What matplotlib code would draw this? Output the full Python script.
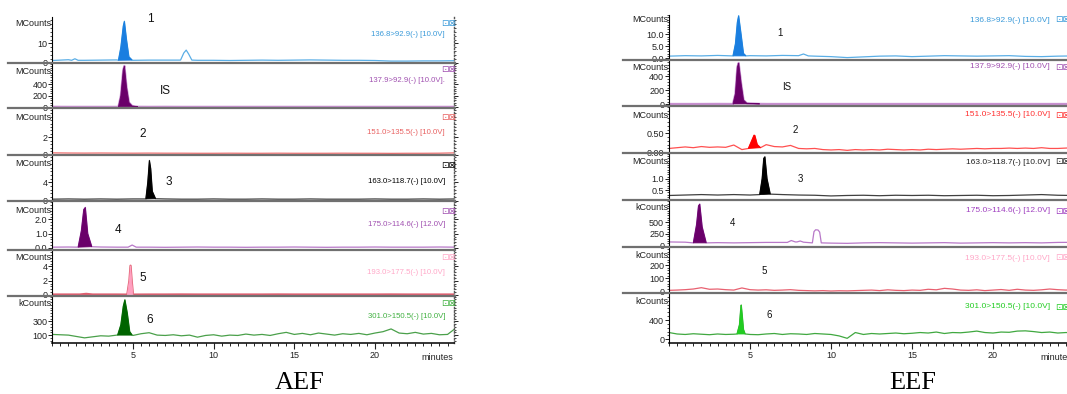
import matplotlib
matplotlib.use("Agg")
import matplotlib.pyplot as plt
from matplotlib.lines import Line2D
from matplotlib.ticker import AutoMinorLocator, FixedLocator, MultipleLocator


# ============================================================
# Data (time in minutes)
# ============================================================

COARSE_T = [float(i) for i in range(26)]          # 1 min sampling
FINE_T = [i * 0.5 for i in range(51)]             # 0.5 min sampling

# ---------------- AEF ----------------
AEF1_BASE = [1.1, 1.5, 1.2, 1.3, 1.4, 1.2, 1.3, 1.3, 1.3, 1.2, 1.2, 1.1, 1.2,
             1.3, 1.2, 1.3, 1.4, 1.3, 1.2, 1.2, 1.1, 0.8, 0.8, 0.9, 0.9, 1.0]
AEF1_PEAK_T = [4.1, 4.25, 4.4, 4.47, 4.6, 4.75, 4.95]
AEF1_PEAK_Y = [1.2, 8, 19, 21.5, 12, 3, 1.3]
AEF1_BUMPS_T = [[1.2, 1.4, 1.6], [7.95, 8.15, 8.3, 8.45, 8.65]]
AEF1_BUMPS_Y = [[1.2, 2.0, 1.2], [1.3, 5, 6.5, 4.5, 1.3]]

AEF2_BASE = [6, 5, 5, 5, 5, 5, 5, 6, 5, 5, 5, 5, 5, 5, 5, 5, 5, 5, 5, 5, 5,
             5, 5, 5, 5, 5]
AEF2_PEAK_T = [4.1, 4.25, 4.4, 4.47, 4.6, 4.75, 4.95, 5.3]
AEF2_PEAK_Y = [5, 200, 650, 718, 350, 80, 20, 6]

AEF3_BASE = [0.2, 0.18, 0.17, 0.18, 0.17, 0.16, 0.17, 0.16, 0.16, 0.15, 0.15,
             0.16, 0.15, 0.15, 0.16, 0.15, 0.15, 0.15, 0.16, 0.15, 0.15, 0.14,
             0.15, 0.15, 0.16, 0.2]

AEF4_BASE = [0.3, 0.35, 0.3, 0.35, 0.3, 0.35, 0.3, 0.35, 0.3, 0.3, 0.35, 0.3,
             0.3, 0.35, 0.3, 0.3, 0.35, 0.3, 0.3, 0.3, 0.35, 0.3, 0.3, 0.35,
             0.3, 0.35]
AEF4_PEAK_T = [5.8, 5.92, 6.02, 6.1, 6.2, 6.4]
AEF4_PEAK_Y = [0.35, 4, 8.8, 7, 2, 0.4]

AEF5_BASE = [0.05, 0.06, 0.05, 0.06, 0.05, 0.06, 0.05, 0.04, 0.05, 0.06, 0.05,
             0.05, 0.04, 0.05, 0.05, 0.06, 0.05, 0.04, 0.05, 0.05, 0.06, 0.05,
             0.05, 0.05, 0.06, 0.05]
AEF5_PEAK_T = [1.6, 1.8, 1.95, 2.05, 2.2, 2.45]
AEF5_PEAK_Y = [0.05, 1.2, 2.7, 2.85, 1.0, 0.08]
AEF5_BUMPS_T = [[4.7, 4.95, 5.2]]
AEF5_BUMPS_Y = [[0.05, 0.2, 0.05]]

AEF6_BASE = [0.06, 0.06, 0.07, 0.06, 0.06, 0.06, 0.06, 0.06, 0.07, 0.06, 0.06,
             0.06, 0.06, 0.06, 0.07, 0.06, 0.06, 0.06, 0.06, 0.06, 0.06, 0.07,
             0.06, 0.06, 0.06, 0.06]
AEF6_PEAK_T = [4.65, 4.78, 4.85, 4.92, 5.0]
AEF6_PEAK_Y = [0.05, 2, 4.1, 2, 0.05]
AEF6_BUMPS_T = [[1.7, 2.1, 2.5]]
AEF6_BUMPS_Y = [[0.06, 0.15, 0.06]]

AEF7_BASE = [110, 105, 100, 80, 60, 75, 90, 85, 100, 100, 95, 120, 135, 100,
             95, 105, 90, 100, 70, 95, 105, 85, 100, 95, 115, 100, 110, 95,
             120, 140, 110, 125, 105, 130, 115, 100, 120, 110, 125, 105, 130,
             150, 190, 130, 120, 140, 115, 125, 105, 110, 200]
AEF7_PEAK_T = [4.05, 4.25, 4.4, 4.5, 4.65, 4.8, 4.95]
AEF7_PEAK_Y = [100, 250, 520, 615, 420, 150, 100]

# ---------------- EEF ----------------
EEF1_BASE = [0.9, 1.1, 1.0, 1.2, 1.1, 1.1, 1.0, 1.2, 1.3, 0.9, 0.7, 0.3, 0.6,
             0.9, 1.0, 0.7, 0.9, 1.1, 1.0, 0.9, 1.0, 1.1, 0.8, 0.7, 0.9, 1.0]
EEF1_PEAK_T = [3.95, 4.1, 4.22, 4.3, 4.45, 4.6, 4.75]
EEF1_PEAK_Y = [1.0, 6, 15, 17.7, 10, 2, 1.0]
EEF1_BUMPS_T = [[8.0, 8.3, 8.6]]
EEF1_BUMPS_Y = [[1.1, 1.8, 1.0]]

EEF2_BASE = [5, 5, 5, 6, 5, 5, 5, 5, 5, 5, 5, 5, 5, 5, 5, 5, 5, 5, 5, 5, 5,
             5, 5, 5, 5, 5]
EEF2_PEAK_T = [3.95, 4.1, 4.22, 4.3, 4.45, 4.6, 4.8, 5.6]
EEF2_PEAK_Y = [5, 150, 530, 590, 300, 60, 15, 6]

EEF3_BASE = [0.1, 0.12, 0.14, 0.12, 0.15, 0.13, 0.14, 0.13, 0.19, 0.07, 0.1,
             0.12, 0.2, 0.15, 0.14, 0.18, 0.1, 0.09, 0.1, 0.07, 0.06, 0.07,
             0.05, 0.07, 0.06, 0.07, 0.06, 0.08, 0.07, 0.06, 0.07, 0.06, 0.08,
             0.07, 0.08, 0.09, 0.08, 0.09, 0.1, 0.09, 0.1, 0.1, 0.11, 0.1,
             0.11, 0.1, 0.12, 0.1, 0.1, 0.11, 0.12]
EEF3_PEAK_T = [4.9, 5.1, 5.25, 5.3, 5.45, 5.65]
EEF3_PEAK_Y = [0.1, 0.3, 0.45, 0.44, 0.2, 0.12]

EEF4_BASE = [0.26, 0.28, 0.3, 0.28, 0.3, 0.28, 0.34, 0.3, 0.28, 0.27, 0.24,
             0.26, 0.27, 0.25, 0.27, 0.26, 0.27, 0.25, 0.26, 0.27, 0.25, 0.26,
             0.28, 0.3, 0.27, 0.26]
EEF4_PEAK_T = [5.6, 5.75, 5.85, 5.92, 6.05, 6.25]
EEF4_PEAK_Y = [0.3, 1.0, 1.9, 1.97, 1.0, 0.32]

EEF5_BASE = [80, 75, 70, 65, 60, 65, 70, 70, 80, 70, 55, 50, 60, 65, 60, 55,
             60, 65, 55, 60, 65, 60, 65, 60, 70, 72]
EEF5_PEAK_T = [1.5, 1.7, 1.82, 1.9, 2.05, 2.3]
EEF5_PEAK_Y = [60, 450, 850, 890, 400, 60]
EEF5_BUMPS_T = [[7.3, 7.55, 7.8], [7.9, 8.1, 8.3],
                [8.85, 8.95, 9.05, 9.2, 9.3, 9.4]]
EEF5_BUMPS_Y = [[70, 110, 80], [80, 100, 75], [60, 300, 340, 335, 290, 60]]

EEF6_BASE = [10, 12, 15, 20, 30, 18, 20, 15, 12, 28, 15, 12, 14, 10, 12, 15,
             10, 8, 6, 8, 5, 7, 6, 8, 10, 12, 8, 14, 10, 8, 12, 10, 18, 14,
             25, 20, 12, 10, 14, 8, 12, 16, 10, 18, 12, 10, 14, 20, 15, 12, 14]

EEF7_BASE = [140, 110, 100, 115, 105, 95, 110, 100, 105, 110, 100, 95, 110,
             120, 100, 115, 110, 100, 120, 110, 100, 70, 20, 140, 100, 120,
             110, 120, 130, 115, 125, 140, 130, 150, 120, 140, 135, 150, 170,
             140, 130, 150, 145, 170, 175, 160, 140, 150, 130, 140, 135]
EEF7_PEAK_T = [4.2, 4.35, 4.42, 4.46, 4.52, 4.6, 4.7]
EEF7_PEAK_Y = [110, 300, 600, 711, 500, 200, 110]

# Labels
AEF_CHANNELS = ["136.8>92.9(-) [10.0V]", "137.9>92.9(-) [10.0V].",
                "151.0>135.5(-) [10.0V]", "163.0>118.7(-) [10.0V]",
                "175.0>114.6(-) [12.0V]", "193.0>177.5(-) [10.0V]",
                "301.0>150.5(-) [10.0V]"]
EEF_CHANNELS = ["136.8>92.9(-) [10.0V]", "137.9>92.9(-) [10.0V]",
                "151.0>135.5(-) [10.0V]", "163.0>118.7(-) [10.0V]",
                "175.0>114.6(-) [12.0V]", "193.0>177.5(-) [10.0V]",
                "301.0>150.5(-) [10.0V]"]
PEAK_NAMES = ["1", "IS", "2", "3", "4", "5", "6"]
AEF_UNITS = ["MCounts"] * 6 + ["kCounts"]
EEF_UNITS = ["MCounts"] * 4 + ["kCounts"] * 3

AEF_YTICKS = [[0, 10], [0, 200, 400], [0, 2], [0, 4], [0, 1, 2], [0, 2, 4],
              [100, 300]]
AEF_YTICKLABELS = [["0", "10"], ["0", "200", "400"], ["0", "2"], ["0", "4"],
                   ["0.0", "1.0", "2.0"], ["0", "2", "4"], ["100", "300"]]
EEF_YTICKS = [[0, 5, 10], [0, 200, 400], [0, 0.5], [0.5, 1.0], [0, 250, 500],
              [0, 100, 200], [0, 400]]
EEF_YTICKLABELS = [["0.0", "5.0", "10.0"], ["0", "200", "400"],
                   ["0.00", "0.50"], ["0.5", "1.0"], ["0", "250", "500"],
                   ["0", "100", "200"], ["0", "400"]]
X_TICKS = [5, 10, 15, 20]


# ============================================================
# Layout / style (pixels of the 1067 x 394 canvas)
# ============================================================

FIG_W_PX, FIG_H_PX, DPI = 1067, 394, 100

AEF_X = (52.3, 454.0)
AEF_XLIM = (0, 24.9)
AEF_BOUNDS = [17, 63, 108, 155, 201, 250, 296, 343]
AEF_YLIMS = [(-0.2, 23.7), (-15, 770), (-0.05, 5.4), (-0.1, 10),
             (-0.15, 3.3), (-0.15, 6.3), (-15, 670)]

EEF_X = (669.0, 1074.0)
EEF_XLIM = (0, 25)
EEF_BOUNDS = [15, 60, 106, 153, 200, 247, 293, 343]
EEF_YLIMS = [(-0.7, 18), (-24, 633), (-0.02, 1.22), (0.06, 2.14),
             (-28, 976), (-10, 336), (-77, 960)]

AEF_LINE = ["#5aaee6", "#c890d0", "#f07070", "#404040", "#b878c8", "#e06070",
            "#4aa04a"]
AEF_FILL = ["#1a7ee0", "#6a006a", None, "#000000", "#6a006a", "#ffa0c0",
            "#006400"]
AEF_TEXT = ["#3a9ad9", "#a050b0", "#e86060", "#000000", "#a050b0", "#ffa8c8",
            "#40b040"]
EEF_LINE = ["#5aaee6", "#c890d0", "#ff5050", "#404040", "#b878c8", "#e86070",
            "#40a840"]
EEF_FILL = ["#1a7ee0", "#6a006a", "#ff0000", "#000000", "#6a006a", None,
            "#22cc22"]
EEF_TEXT = ["#3a9ad9", "#a050b0", "#ff3030", "#222222", "#a040c0", "#ffa8c8",
            "#22cc22"]

AEF_NAME_POS = [(150, 19), (165, 91), (143, 134), (169, 182), (118, 230),
                (143, 278), (150, 320)]
EEF_NAME_POS = [(780, 33), (787, 87), (795, 130), (800, 179), (733, 223),
                (764, 271), (769, 315)]
AEF_CHAN_Y = [35, 80, 132, 182, 225, 273, 317]
EEF_CHAN_Y = [20, 67, 115, 162, 211, 258, 307]
AEF_ICON_Y = [23, 70, 117, 165, 211, 258, 303]
AEF_UNIT_DY = [6, 8.5, 10, 8, 9, 7.5, 8]
EEF_UNIT_DY = [5, 7, 9, 8.5, 8, 8, 8.5]

plt.rcParams["font.family"] = ["Liberation Sans", "DejaVu Sans"]


def fx(x):
    return x / FIG_W_PX


def fy(y):
    return 1 - y / FIG_H_PX


def build_trace(base_t, base_y, groups):
    spans = [(min(t), max(t)) for t, _ in groups]
    pts = [(t, y) for t, y in zip(base_t, base_y)
           if not any(lo <= t <= hi for lo, hi in spans)]
    for gt, gy in groups:
        pts.extend(zip(gt, gy))
    pts.sort()
    return [p[0] for p in pts], [p[1] for p in pts]


def draw_chromatogram(fig, panels, x_px, xlim, bounds, ylims, yticks,
                      yticklabels, units, unit_dy, line_c, fill_c, text_c,
                      name_pos, chan_labels, chan_y, chan_x, icon_x, icon_y,
                      name_size, chan_size, sep_left, sep_right, dotted):
    for i, (base_t, base_y, peak, bumps) in enumerate(panels):
        top, bot = bounds[i], bounds[i + 1]
        ax = fig.add_axes([fx(x_px[0]), fy(bot), fx(x_px[1] - x_px[0]),
                           (bot - top) / FIG_H_PX])
        ax.set_xlim(*xlim)
        ax.set_ylim(*ylims[i])
        ax.patch.set_alpha(0)

        groups = list(bumps)
        if peak is not None:
            groups.append(peak)
        t, y = build_trace(base_t, base_y, groups)
        lw = 1.6 if i in (1,) or (i == 5 and fill_c[i] is not None) else 0.9
        ax.plot(t, y, color=line_c[i], lw=lw, solid_joinstyle="round",
                zorder=2)
        if peak is not None and fill_c[i] is not None:
            ax.fill(peak[0], peak[1], color=fill_c[i], lw=0.6, zorder=3)

        # spines
        ax.spines["top"].set_visible(False)
        ax.spines["bottom"].set_visible(i == len(panels) - 1)
        ax.spines["left"].set_linewidth(0.8)
        if dotted:
            ax.spines["right"].set_linestyle((0, (1, 1.5)))
            ax.spines["right"].set_color("#555555")
            ax.spines["right"].set_linewidth(1.0)
        else:
            ax.spines["right"].set_visible(False)

        ax.yaxis.set_major_locator(FixedLocator(yticks[i]))
        ax.set_yticklabels(yticklabels[i])
        ax.yaxis.set_minor_locator(AutoMinorLocator(5))
        ax.tick_params(axis="y", which="major", length=3, width=0.7,
                       labelsize=6.5, pad=0.5, colors="#222222")
        ax.tick_params(axis="y", which="minor", length=1.5, width=0.5)
        ax.tick_params(axis="y", right=dotted, which="both",
                       labelright=False)

        if i == len(panels) - 1:
            ax.xaxis.set_major_locator(FixedLocator(X_TICKS))
            ax.xaxis.set_minor_locator(MultipleLocator(0.5))
            ax.tick_params(axis="x", which="major", length=4, width=0.8,
                           labelsize=6.5, pad=2, colors="#222222")
            ax.tick_params(axis="x", which="minor", length=2.5, width=0.6)
            ax.spines["bottom"].set_linewidth(1.1)
        else:
            ax.set_xticks([])

        # unit label at the top of the y axis
        fig.text(fx(x_px[0] - 1), fy(top + unit_dy[i]), units[i], ha="right",
                 va="center", fontsize=6.5, color="#222222")
        # channel label
        fig.text(fx(chan_x), fy(chan_y[i]), chan_labels[i], ha="right",
                 va="center", fontsize=chan_size, color=text_c[i])
        # window icons
        fig.text(fx(icon_x), fy(icon_y[i]), "\u22a1\u22a0", ha="center",
                 va="center", fontsize=6.5, color=text_c[i],
                 family="DejaVu Sans")
        # peak name
        fig.text(fx(name_pos[i][0]), fy(name_pos[i][1]), PEAK_NAMES[i],
                 ha="center", va="center", fontsize=name_size,
                 color="#111111")

        # separator under the panel
        if i < len(panels) - 1:
            fig.add_artist(Line2D([fx(sep_left), fx(sep_right)],
                                  [fy(bot), fy(bot)], color="#707070",
                                  lw=1.6, transform=fig.transFigure))


fig = plt.figure(figsize=(FIG_W_PX / DPI, FIG_H_PX / DPI), dpi=DPI)

aef_panels = [
    (COARSE_T, AEF1_BASE, (AEF1_PEAK_T, AEF1_PEAK_Y),
     list(zip(AEF1_BUMPS_T, AEF1_BUMPS_Y))),
    (COARSE_T, AEF2_BASE, (AEF2_PEAK_T, AEF2_PEAK_Y), []),
    (COARSE_T, AEF3_BASE, None, []),
    (COARSE_T, AEF4_BASE, (AEF4_PEAK_T, AEF4_PEAK_Y), []),
    (COARSE_T, AEF5_BASE, (AEF5_PEAK_T, AEF5_PEAK_Y),
     list(zip(AEF5_BUMPS_T, AEF5_BUMPS_Y))),
    (COARSE_T, AEF6_BASE, (AEF6_PEAK_T, AEF6_PEAK_Y),
     list(zip(AEF6_BUMPS_T, AEF6_BUMPS_Y))),
    (FINE_T, AEF7_BASE, (AEF7_PEAK_T, AEF7_PEAK_Y), []),
]
eef_panels = [
    (COARSE_T, EEF1_BASE, (EEF1_PEAK_T, EEF1_PEAK_Y),
     list(zip(EEF1_BUMPS_T, EEF1_BUMPS_Y))),
    (COARSE_T, EEF2_BASE, (EEF2_PEAK_T, EEF2_PEAK_Y), []),
    (FINE_T, EEF3_BASE, (EEF3_PEAK_T, EEF3_PEAK_Y), []),
    (COARSE_T, EEF4_BASE, (EEF4_PEAK_T, EEF4_PEAK_Y), []),
    (COARSE_T, EEF5_BASE, (EEF5_PEAK_T, EEF5_PEAK_Y),
     list(zip(EEF5_BUMPS_T, EEF5_BUMPS_Y))),
    (FINE_T, EEF6_BASE, None, []),
    (FINE_T, EEF7_BASE, (EEF7_PEAK_T, EEF7_PEAK_Y), []),
]

draw_chromatogram(fig, aef_panels, AEF_X, AEF_XLIM, AEF_BOUNDS, AEF_YLIMS,
                  AEF_YTICKS, AEF_YTICKLABELS, AEF_UNITS, AEF_UNIT_DY,
                  AEF_LINE, AEF_FILL, AEF_TEXT, AEF_NAME_POS, AEF_CHANNELS,
                  AEF_CHAN_Y, 445, 449, AEF_ICON_Y, 8.5, 5.6, 8, 455, True)
draw_chromatogram(fig, eef_panels, EEF_X, EEF_XLIM, EEF_BOUNDS, EEF_YLIMS,
                  EEF_YTICKS, EEF_YTICKLABELS, EEF_UNITS, EEF_UNIT_DY,
                  EEF_LINE, EEF_FILL, EEF_TEXT, EEF_NAME_POS, EEF_CHANNELS,
                  EEF_CHAN_Y, 1050, 1063, EEF_CHAN_Y, 7, 6.0, 623, 1067,
                  False)

fig.text(fx(437), fy(358), "minutes", ha="center", va="center",
         fontsize=6.5, color="#222222")
fig.text(fx(1040), fy(358), "minutes", ha="left", va="center",
         fontsize=6.5, color="#222222")

fig.text(fx(300), fy(383), "AEF", ha="center", va="center", fontsize=19,
         family="Liberation Serif")
fig.text(fx(913), fy(383), "EEF", ha="center", va="center", fontsize=19,
         family="Liberation Serif")

fig.savefig("out.png", dpi=DPI)
